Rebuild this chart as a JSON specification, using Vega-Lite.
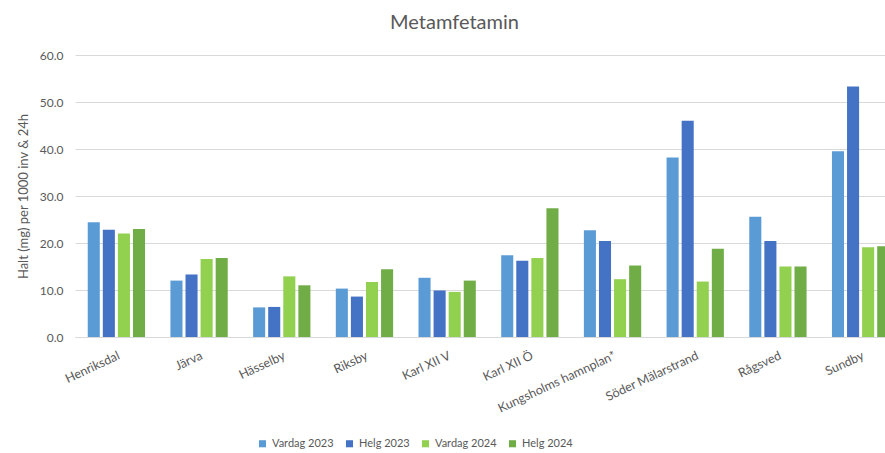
{
  "$schema": "https://vega.github.io/schema/vega-lite/v6.json",
  "width": 827,
  "height": 282,
  "padding": {"left": 17, "top": 13, "right": 0, "bottom": 0},
  "background": "white",
  "title": {"text": "Metamfetamin", "fontSize": 20, "font": "Lato", "fontWeight": "normal", "color": "#595959", "dx": -34, "offset": 16},
  "config": {
    "view": {"stroke": null},
    "font": "Lato",
    "axis": {"labelColor": "#595959", "titleColor": "#595959", "labelFont": "Lato", "titleFont": "Lato"}
  },
  "data": {"values": [
    {"site": "Henriksdal", "serie": "Vardag 2023", "v": 24.4},
    {"site": "Henriksdal", "serie": "Helg 2023", "v": 22.8},
    {"site": "Henriksdal", "serie": "Vardag 2024", "v": 22.0},
    {"site": "Henriksdal", "serie": "Helg 2024", "v": 23.0},
    {"site": "Järva", "serie": "Vardag 2023", "v": 12.0},
    {"site": "Järva", "serie": "Helg 2023", "v": 13.3},
    {"site": "Järva", "serie": "Vardag 2024", "v": 16.6},
    {"site": "Järva", "serie": "Helg 2024", "v": 16.8},
    {"site": "Hässelby", "serie": "Vardag 2023", "v": 6.3},
    {"site": "Hässelby", "serie": "Helg 2023", "v": 6.4},
    {"site": "Hässelby", "serie": "Vardag 2024", "v": 12.9},
    {"site": "Hässelby", "serie": "Helg 2024", "v": 11.0},
    {"site": "Riksby", "serie": "Vardag 2023", "v": 10.3},
    {"site": "Riksby", "serie": "Helg 2023", "v": 8.6},
    {"site": "Riksby", "serie": "Vardag 2024", "v": 11.7},
    {"site": "Riksby", "serie": "Helg 2024", "v": 14.4},
    {"site": "Karl XII V", "serie": "Vardag 2023", "v": 12.6},
    {"site": "Karl XII V", "serie": "Helg 2023", "v": 9.9},
    {"site": "Karl XII V", "serie": "Vardag 2024", "v": 9.6},
    {"site": "Karl XII V", "serie": "Helg 2024", "v": 12.0},
    {"site": "Karl XII Ö", "serie": "Vardag 2023", "v": 17.4},
    {"site": "Karl XII Ö", "serie": "Helg 2023", "v": 16.2},
    {"site": "Karl XII Ö", "serie": "Vardag 2024", "v": 16.8},
    {"site": "Karl XII Ö", "serie": "Helg 2024", "v": 27.4},
    {"site": "Kungsholms hamnplan*", "serie": "Vardag 2023", "v": 22.7},
    {"site": "Kungsholms hamnplan*", "serie": "Helg 2023", "v": 20.4},
    {"site": "Kungsholms hamnplan*", "serie": "Vardag 2024", "v": 12.3},
    {"site": "Kungsholms hamnplan*", "serie": "Helg 2024", "v": 15.2},
    {"site": "Söder Mälarstrand", "serie": "Vardag 2023", "v": 38.2},
    {"site": "Söder Mälarstrand", "serie": "Helg 2023", "v": 46.0},
    {"site": "Söder Mälarstrand", "serie": "Vardag 2024", "v": 11.8},
    {"site": "Söder Mälarstrand", "serie": "Helg 2024", "v": 18.8},
    {"site": "Rågsved", "serie": "Vardag 2023", "v": 25.6},
    {"site": "Rågsved", "serie": "Helg 2023", "v": 20.4},
    {"site": "Rågsved", "serie": "Vardag 2024", "v": 15.0},
    {"site": "Rågsved", "serie": "Helg 2024", "v": 15.0},
    {"site": "Sundby", "serie": "Vardag 2023", "v": 39.5},
    {"site": "Sundby", "serie": "Helg 2023", "v": 53.3},
    {"site": "Sundby", "serie": "Vardag 2024", "v": 19.1},
    {"site": "Sundby", "serie": "Helg 2024", "v": 19.3}
  ]},
  "mark": {"type": "bar"},
  "encoding": {
    "x": {
      "field": "site", "type": "nominal", "sort": null,
      "scale": {"paddingInner": 0.307, "paddingOuter": 0.154},
      "axis": {"title": null, "labelAngle": -25, "labelAlign": "right", "labelBaseline": "top", "labelFontSize": 12.5, "labelPadding": 12, "ticks": false, "domain": true, "domainColor": "#D9D9D9", "labelLimit": 300}
    },
    "xOffset": {
      "field": "serie", "type": "nominal",
      "sort": ["Vardag 2023", "Helg 2023", "Vardag 2024", "Helg 2024"],
      "scale": {"paddingInner": 0.2, "paddingOuter": 0}
    },
    "y": {
      "field": "v", "type": "quantitative",
      "scale": {"domain": [0, 60]},
      "axis": {"title": "Halt (mg) per 1000 inv & 24h", "titleFontSize": 13, "titleFontWeight": "normal", "titlePadding": 9, "values": [0, 10, 20, 30, 40, 50, 60], "format": ".1f", "labelFontSize": 12, "labelPadding": 12, "ticks": false, "domain": false, "gridColor": "#D9D9D9", "gridWidth": 1}
    },
    "color": {
      "field": "serie", "type": "nominal",
      "sort": ["Vardag 2023", "Helg 2023", "Vardag 2024", "Helg 2024"],
      "scale": {"domain": ["Vardag 2023", "Helg 2023", "Vardag 2024", "Helg 2024"], "range": ["#5B9BD5", "#4472C4", "#92D050", "#70AD47"]},
      "legend": {"title": null, "orient": "none", "direction": "horizontal", "legendX": 182, "legendY": 383, "symbolType": "square", "symbolSize": 50, "labelFontSize": 11, "labelColor": "#595959", "columnPadding": 10, "symbolStrokeWidth": 0}
    }
  }
}
